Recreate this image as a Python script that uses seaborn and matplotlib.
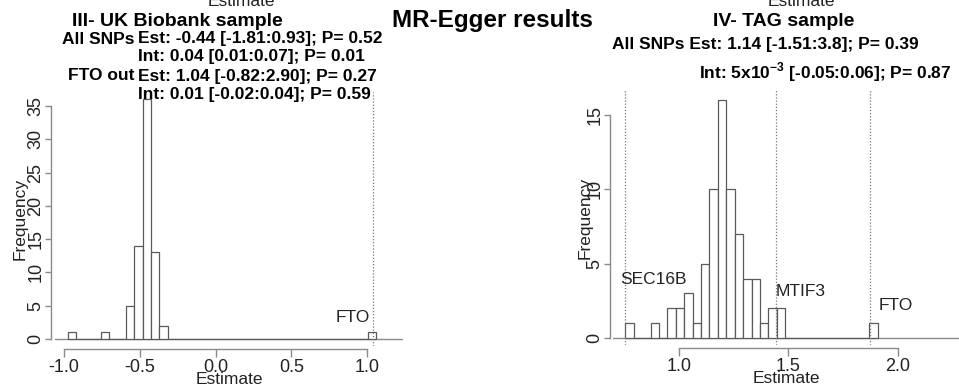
import numpy as np
import pandas as pd
import matplotlib
matplotlib.use("Agg")
import matplotlib.pyplot as plt
import seaborn as sns

# ---------------- data ----------------
# Panel III - UK Biobank: histogram of leave-one-out MR-Egger estimates
uk_bin_start = -0.976
uk_bin_width = 0.055
uk_counts = [1, 0, 0, 0, 1, 0, 0, 5, 14, 36, 13, 2,
             0, 0, 0, 0, 0, 0, 0, 0, 0, 0, 0, 0,
             0, 0, 0, 0, 0, 0, 0, 0, 0, 0, 0, 0, 1]
uk_markers = [1.04]
uk_marker_labels = ["FTO"]

# Panel IV - TAG
tag_bin_start = 0.7528
tag_bin_width = 0.03854
tag_counts = [1, 0, 0, 1, 0, 2, 2, 3, 1, 5, 10, 16, 10, 7, 4, 4, 1, 2, 2,
              0, 0, 0, 0, 0, 0, 0, 0, 0, 0, 1]
tag_markers = [0.7528, 1.4415, 1.8736]
tag_marker_labels = ["SEC16B", "MTIF3", "FTO"]

uk_xticks = [-1.0, -0.5, 0.0, 0.5, 1.0]
uk_yticks = [0, 5, 10, 15, 20, 25, 30, 35]
tag_xticks = [1.0, 1.5, 2.0]
tag_yticks = [0, 5, 10, 15]

main_title = "MR-Egger results"
uk_title = "III- UK Biobank sample"
tag_title = "IV- TAG sample"

# ---------------- style ----------------
sns.set_style("white")
plt.rcParams['font.family'] = ['Liberation Sans', 'DejaVu Sans']
plt.rcParams['mathtext.fontset'] = 'custom'
plt.rcParams['mathtext.rm'] = 'Liberation Sans'
plt.rcParams['mathtext.bf'] = 'Liberation Sans:bold'

W, H = 959, 389
fig = plt.figure(figsize=(W / 100, H / 100), dpi=100)

def px_rect(x0, y0, x1, y1):
    return [x0 / W, 1 - y1 / H, (x1 - x0) / W, (y1 - y0) / H]

def ftext(x, y, s, **kw):
    fig.text(x / W, 1 - y / H, s, **kw)

AXC = "#8a8a8a"
EDGE = "#5a5a5a"
TXT = "#222222"

def draw_hist(ax, start, width, counts):
    counts = np.asarray(counts, dtype=float)
    n = len(counts)
    edges = start + width * np.arange(n + 1)
    centers = start + width * (np.arange(n) + 0.5)
    df = pd.DataFrame({"est": centers, "count": counts})
    sns.histplot(data=df, x="est", weights="count", bins=list(edges), ax=ax,
                 color="white", edgecolor=EDGE, linewidth=0.9, alpha=1.0)

def style_axes(ax, xticks, yticks, left_out, ypad):
    for s in ["top", "right"]:
        ax.spines[s].set_visible(False)
    ax.spines["left"].set_position(("outward", left_out))
    ax.spines["bottom"].set_position(("outward", 2))
    ax.spines["left"].set_bounds(yticks[0], yticks[-1])
    ax.spines["bottom"].set_bounds(xticks[0], xticks[-1])
    for s in ["left", "bottom"]:
        ax.spines[s].set_color(AXC)
        ax.spines[s].set_linewidth(1.0)
    ax.set_xticks(xticks)
    ax.set_xticklabels([f"{t:.1f}" for t in xticks])
    ax.set_yticks(yticks)
    ax.set_yticklabels([str(t) for t in yticks], rotation=90, va="center")
    ax.tick_params(axis="x", direction="out", length=5.5, width=1.0,
                   color=AXC, labelcolor=TXT, labelsize=13, pad=2, bottom=True)
    ax.tick_params(axis="y", direction="out", length=4, width=1.0,
                   color=AXC, labelcolor=TXT, labelsize=13, pad=ypad, left=True)
    ax.axhline(0, color=AXC, lw=1.0, zorder=0.5)
    ax.set_xlabel("Estimate", fontsize=12.5, color=TXT, labelpad=-3)
    ax.set_ylabel("Frequency", fontsize=12.5, color=TXT)
    ax.patch.set_alpha(0)

# ---- left panel ----
axL = fig.add_axes(px_rect(55, 92, 403, 346))
draw_hist(axL, uk_bin_start, uk_bin_width, uk_counts)
axL.set_xlim(-1.0594, 1.2376)
axL.set_ylim(-1.05, 37.09)
style_axes(axL, uk_xticks, uk_yticks, 3, 0.5)
axL.yaxis.set_label_coords(-0.078, 0.5)
for xm in uk_markers:
    axL.axvline(xm, color="#777777", lw=0.9, ls=(0, (1, 1.5)))
ftext(353, 318, uk_marker_labels[0], fontsize=12.5, ha="center", va="center", color=TXT)

# ---- right panel ----
axR = fig.add_axes(px_rect(613, 90, 959, 345))
draw_hist(axR, tag_bin_start, tag_bin_width, tag_counts)
axR.set_xlim(0.6963, 2.281)
axR.set_ylim(-0.47, 16.68)
style_axes(axR, tag_xticks, tag_yticks, 2, 1)
axR.yaxis.set_label_coords(-0.058, 0.5)
for xm in tag_markers:
    axR.axvline(xm, color="#777777", lw=0.9, ls=(0, (1, 1.5)))
ftext(653, 280, tag_marker_labels[0], fontsize=12.5, ha="center", va="center", color=TXT)
ftext(801, 292, tag_marker_labels[1], fontsize=12.5, ha="center", va="center", color=TXT)
ftext(896, 306, tag_marker_labels[2], fontsize=12.5, ha="center", va="center", color=TXT)

# ---- texts ----
ftext(241, 1, "Estimate", fontsize=12.5, ha="center", va="center", color=TXT)
ftext(801, 1, "Estimate", fontsize=12.5, ha="center", va="center", color=TXT)

ftext(492, 20, main_title, fontsize=17.5, fontweight="bold", ha="center", va="center", color="black")
ftext(177, 22, uk_title, fontsize=14, fontweight="bold", ha="center", va="center", color="black")
ftext(784, 22, tag_title, fontsize=14, fontweight="bold", ha="center", va="center", color="black")

sub = dict(fontsize=12.5, fontweight="bold", va="center", color="black")
ftext(135, 39, "All SNPs", ha="right", **sub)
ftext(138, 39, "Est: -0.44 [-1.81:0.93]; P= 0.52", ha="left", **sub)
ftext(138, 57, "Int: 0.04 [0.01:0.07]; P= 0.01", ha="left", **sub)
ftext(135, 76, "FTO out", ha="right", **sub)
ftext(138, 76, "Est: 1.04 [-0.82:2.90]; P= 0.27", ha="left", **sub)
ftext(138, 95, "Int: 0.01 [-0.02:0.04]; P= 0.59", ha="left", **sub)

ftext(612, 45, "All SNPs Est: 1.14 [-1.51:3.8]; P= 0.39", ha="left", **sub)
ftext(699, 72, r"Int: 5x10$^{\mathbf{-3}}$ [-0.05:0.06]; P= 0.87", ha="left", **sub)

fig.savefig("out.png", dpi=100)
